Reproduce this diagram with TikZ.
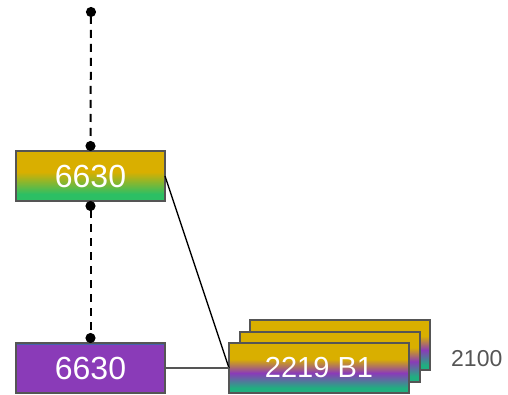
\documentclass[tikz,border=0pt]{standalone}
\usepackage{fontspec}
\setmainfont{Liberation Sans}
\usepackage{tikz}
\usetikzlibrary{positioning,arrows.meta,calc}
\definecolor{gold}{RGB}{217,175,0}
\definecolor{lgreen}{RGB}{44,191,100}
\definecolor{tgreen}{RGB}{32,175,128}
\definecolor{vpurple}{RGB}{138,59,184}
\definecolor{sliver}{RGB}{70,95,175}
\definecolor{boxgray}{RGB}{85,85,85}
\pgfdeclareverticalshading{goldgreen}{100bp}{color(0bp)=(lgreen); color(32bp)=(lgreen); color(54bp)=(gold); color(100bp)=(gold)}
\pgfdeclareverticalshading{triband}{100bp}{color(0bp)=(tgreen); color(30bp)=(tgreen); color(45bp)=(vpurple); color(59bp)=(gold); color(100bp)=(gold)}
\pgfdeclareverticalshading{purpletop}{100bp}{color(0bp)=(vpurple); color(73bp)=(vpurple); color(73.5bp)=(sliver); color(100bp)=(sliver)}
\tikzset{
  blk/.style={draw=boxgray, line width=2pt, inner sep=0pt, outer sep=0pt,
    minimum height=50pt, text=white, font=\fontsize{32}{34}\selectfont},
  single/.style={blk, minimum width=149pt},
  ripe/.style={single, shading=goldgreen},
  raw/.style={single, shading=purpletop},
  batch/.style={blk, minimum width=180pt, shading=triband,
    font=\fontsize{29}{31}\selectfont},
  dotline/.style={{Circle[length=10pt]}-{Circle[length=10pt]}, line width=2pt,
    dash pattern=on 8pt off 6pt},
  link/.style={line width=1.3pt, black},
  feed/.style={line width=2pt, boxgray},
  note/.style={font=\fontsize{23}{26}\selectfont, text=boxgray, anchor=west, inner sep=0pt},
}
\begin{document}
\begin{tikzpicture}[x=1pt, y=-1pt]
    \useasboundingbox (0,0) rectangle (508,395);
    \node[ripe] (upper) at (90.5,176) {6630};
    \node[raw] (lower) at (90.5,368) {6630};
    \node[batch] (stackback) at (340,345) {};
    \node[batch] (stackmid) at (329.5,356.5) {};
    \node[batch] (stackfront) at (319,368) {2219 B1};
    \node[note] (qty) at (451,359) {2100};
    \coordinate (topend) at (91,7);
    \draw[dotline] (topend) -- (upper.north);
    \draw[dotline] (upper.south) -- (lower.north);
    \draw[link] (upper.east) -- (stackfront.west);
    \draw[feed] (lower.east) -- (stackfront.west);
  \end{tikzpicture}
\end{document}
